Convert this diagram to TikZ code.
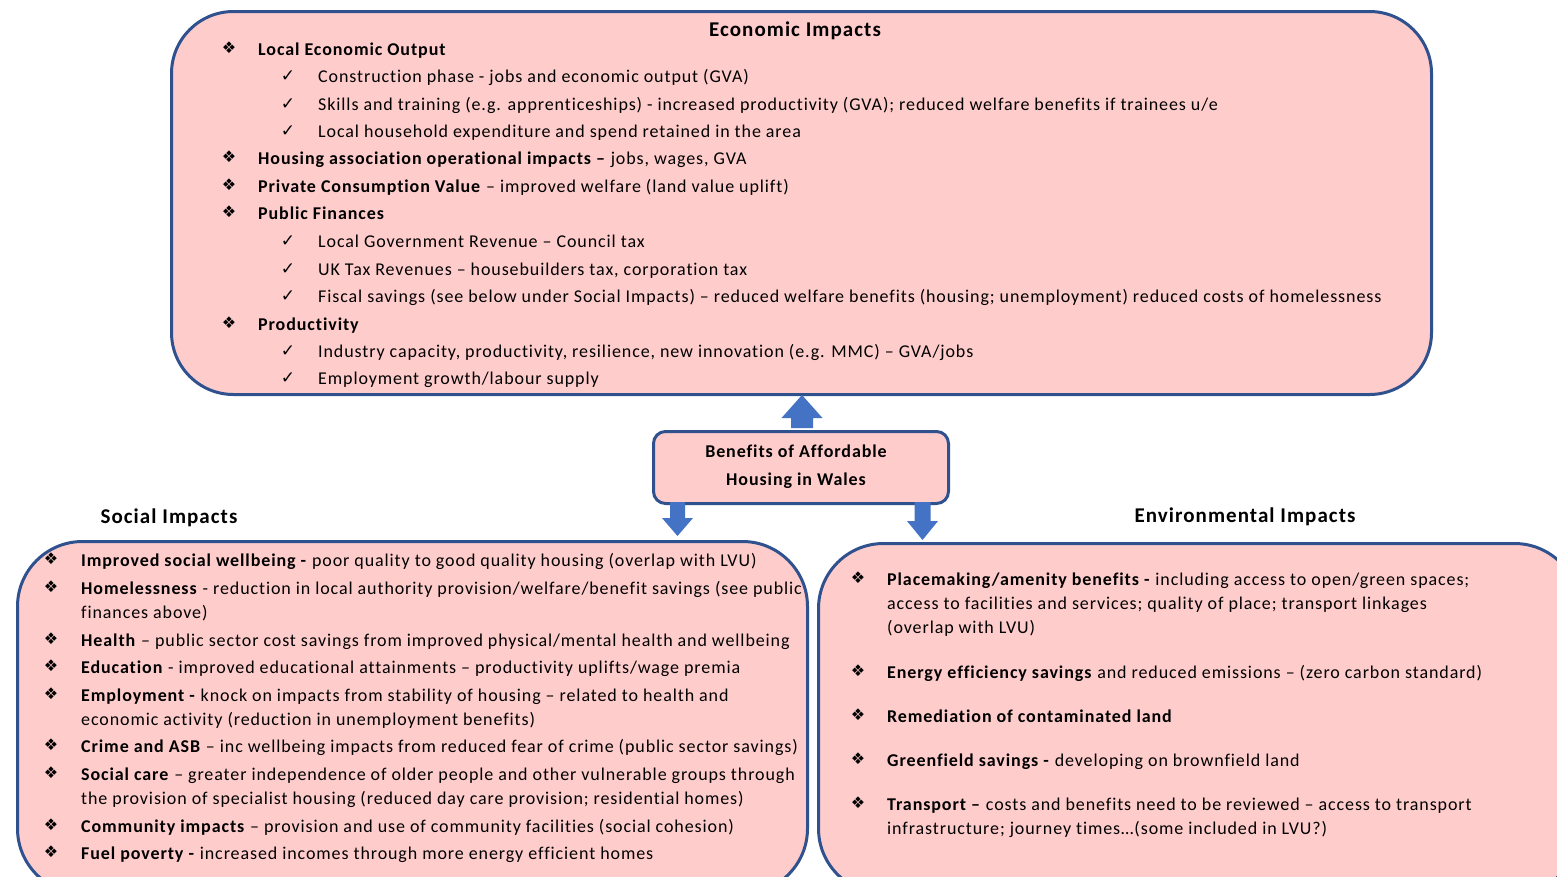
\documentclass[tikz,border=0pt]{standalone}
\usepackage{fontspec}
\setmainfont{Carlito}[LetterSpace=5,Ligatures=NoCommon]
\newfontfamily\symf{DejaVu Sans}
\definecolor{boxfill}{HTML}{FFCCCC}
\definecolor{boxline}{HTML}{2F528F}
\definecolor{arrowblue}{HTML}{4472C4}
\begin{document}
\begin{tikzpicture}[x=1pt,y=-1pt,
  panel/.style={draw=boxline,fill=boxfill,line width=3pt,inner sep=0pt,anchor=north west},
  txt/.style={anchor=base west,inner sep=0pt,font=\fontsize{18}{21}\selectfont},
  ttl/.style={anchor=base,inner sep=0pt,font=\fontsize{21}{24}\selectfont\bfseries},
  bul/.style={inner sep=0pt,font=\symf\fontsize{16}{18}\selectfont},
  chk/.style={inner sep=0pt,font=\symf\fontsize{17}{19}\selectfont},
  blockarrow/.style={fill=arrowblue}]
\useasboundingbox (0,0) rectangle (1557,876);
\clip (0,0) rectangle (1557,876);
\fill[white] (0,0) rectangle (1557,876);
% panels
\node[panel,rounded corners=62pt,minimum width=1260pt,minimum height=383pt] (econ) at (170,10) {};
\node[panel,rounded corners=65pt,minimum width=790pt,minimum height=352pt] (soc) at (16,540) {};
\node[panel,rounded corners=65pt,minimum width=761pt,minimum height=350pt] (env) at (817,542) {};
\node[panel,rounded corners=12pt,minimum width=295pt,minimum height=72pt] (mid) at (652,430) {};
% block arrows
\fill[blockarrow] (791,428) -- (791,418) -- (781.5,418) -- (802,395) -- (822.5,418) -- (813,418) -- (813,428) -- cycle;
\fill[blockarrow] (670,502) -- (685,502) -- (685,518) -- (693,518) -- (677.5,536) -- (662,518) -- (670,518) -- cycle;
\fill[blockarrow] (914.5,502) -- (930.5,502) -- (930.5,521) -- (938,521) -- (922.5,540) -- (907,521) -- (914.5,521) -- cycle;
% titles
\node[ttl] (econT) at (795,36) {Economic Impacts};
\node[ttl] (socT) at (169,523) {Social Impacts};
\node[ttl] (envT) at (1245,522) {Environmental Impacts};
\node[ttl,font=\fontsize{18}{21}\selectfont\bfseries] (midA) at (796,457) {Benefits of Affordable};
\node[ttl,font=\fontsize{18}{21}\selectfont\bfseries] (midB) at (796,485) {Housing in Wales};
% economic
\node[bul] (eb1) at (229,48) {❖};
\node[txt] (e1) at (258,55) {\textbf{Local Economic Output}};
\node[chk] (ec1) at (288,76) {✓};
\node[txt] (e2) at (318,82) {Construction phase - jobs and economic output (GVA)};
\node[chk] (ec2) at (288,104) {✓};
\node[txt] (e3) at (318,110) {Skills and training (e.g. apprenticeships) - increased productivity (GVA); reduced welfare benefits if trainees u/e};
\node[chk] (ec3) at (288,131) {✓};
\node[txt] (e4) at (318,137) {Local household expenditure and spend retained in the area};
\node[bul] (eb2) at (229,157) {❖};
\node[txt] (e5) at (258,164) {\textbf{Housing association operational impacts –} jobs, wages, GVA};
\node[bul] (eb3) at (229,185) {❖};
\node[txt] (e6) at (258,192) {\textbf{Private Consumption Value} – improved welfare (land value uplift)};
\node[bul] (eb4) at (229,212) {❖};
\node[txt] (e7) at (258,219) {\textbf{Public Finances}};
\node[chk] (ec4) at (288,241) {✓};
\node[txt] (e8) at (318,247) {Local Government Revenue – Council tax};
\node[chk] (ec5) at (288,269) {✓};
\node[txt] (e9) at (318,275) {UK Tax Revenues – housebuilders tax, corporation tax};
\node[chk] (ec6) at (288,296) {✓};
\node[txt] (e10) at (318,302) {Fiscal savings (see below under Social Impacts) – reduced welfare benefits (housing; unemployment) reduced costs of homelessness};
\node[bul] (eb5) at (229,323) {❖};
\node[txt] (e11) at (258,330) {\textbf{Productivity}};
\node[chk] (ec7) at (288,351) {✓};
\node[txt] (e12) at (318,357) {Industry capacity, productivity, resilience, new innovation (e.g. MMC) – GVA/jobs};
\node[chk] (ec8) at (288,378) {✓};
\node[txt] (e13) at (318,384) {Employment growth/labour supply};
% social
\node[bul] (sb1) at (51,559) {❖};
\node[txt] (s1) at (81,566) {\textbf{Improved social wellbeing -} poor quality to good quality housing (overlap with LVU)};
\node[bul] (sb2) at (51,587) {❖};
\node[txt] (s2) at (81,594) {\textbf{Homelessness} - reduction in local authority provision/welfare/benefit savings (see public};
\node[txt] (s2b) at (81,618) {finances above)};
\node[bul] (sb3) at (51,639) {❖};
\node[txt] (s3) at (81,646) {\textbf{Health} – public sector cost savings from improved physical/mental health and wellbeing};
\node[bul] (sb4) at (51,666) {❖};
\node[txt] (s4) at (81,673) {\textbf{Education} - improved educational attainments – productivity uplifts/wage premia};
\node[bul] (sb5) at (51,694) {❖};
\node[txt] (s5) at (81,701) {\textbf{Employment -} knock on impacts from stability of housing – related to health and};
\node[txt] (s5b) at (81,725) {economic activity (reduction in unemployment benefits)};
\node[bul] (sb6) at (51,745) {❖};
\node[txt] (s6) at (81,752) {\textbf{Crime and ASB} – inc wellbeing impacts from reduced fear of crime (public sector savings)};
\node[bul] (sb7) at (51,773) {❖};
\node[txt] (s7) at (81,780) {\textbf{Social care} – greater independence of older people and other vulnerable groups through};
\node[txt] (s7b) at (81,804) {the provision of specialist housing (reduced day care provision; residential homes)};
\node[bul] (sb8) at (51,825) {❖};
\node[txt] (s8) at (81,832) {\textbf{Community impacts} – provision and use of community facilities (social cohesion)};
\node[bul] (sb9) at (51,852) {❖};
\node[txt] (s9) at (81,859) {\textbf{Fuel poverty -} increased incomes through more energy efficient homes};
% environmental
\node[bul] (vb1) at (858,578) {❖};
\node[txt] (v1) at (887,585) {\textbf{Placemaking/amenity benefits -} including access to open/green spaces;};
\node[txt] (v1b) at (887,609) {access to facilities and services; quality of place; transport linkages};
\node[txt] (v1c) at (887,633) {(overlap with LVU)};
\node[bul] (vb2) at (858,671) {❖};
\node[txt] (v2) at (887,678) {\textbf{Energy efficiency savings} and reduced emissions – (zero carbon standard)};
\node[bul] (vb3) at (858,715) {❖};
\node[txt] (v3) at (887,722) {\textbf{Remediation of contaminated land}};
\node[bul] (vb4) at (858,759) {❖};
\node[txt] (v4) at (887,766) {\textbf{Greenfield savings -} developing on brownfield land};
\node[bul] (vb5) at (858,803) {❖};
\node[txt] (v5) at (887,810) {\textbf{Transport –} costs and benefits need to be reviewed – access to transport};
\node[txt] (v5b) at (887,834) {infrastructure; journey times…(some included in LVU?)};
\end{tikzpicture}
\end{document}
